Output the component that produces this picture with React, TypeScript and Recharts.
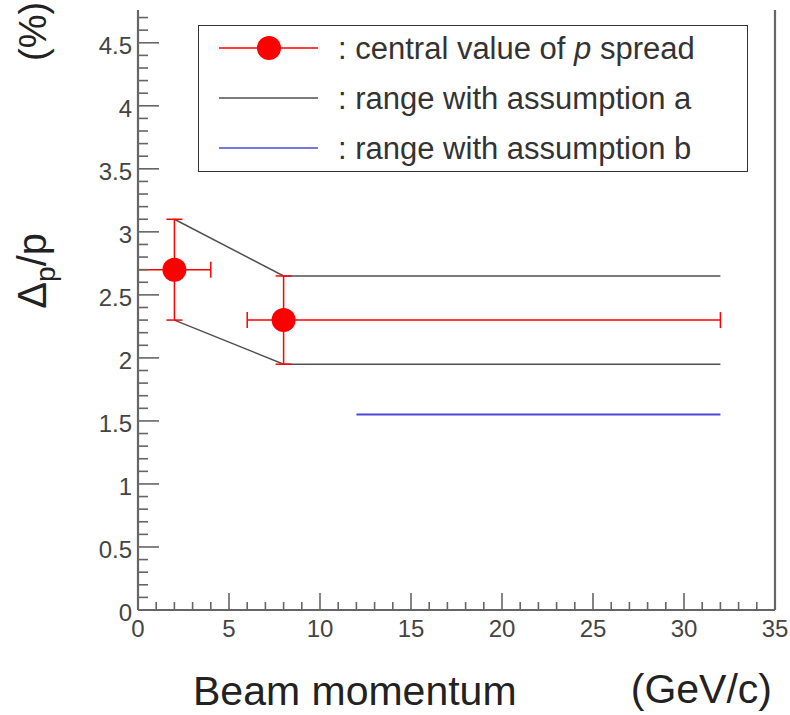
import React from 'react';
import {
  ComposedChart,
  Line,
  Scatter,
  ErrorBar,
  XAxis,
  YAxis,
  ReferenceLine,
  Legend,
} from 'recharts';

// ---- data ----
const centralPoints = [
  { x: 2, y: 2.7, ex: [2, 2], ey: [0.4, 0.4] },
  { x: 8, y: 2.3, ex: [2, 24], ey: [0.35, 0.35] },
];
const rangeAUpper = [
  { x: 2, y: 3.1 },
  { x: 8, y: 2.65 },
  { x: 32, y: 2.65 },
];
const rangeALower = [
  { x: 2, y: 2.3 },
  { x: 8, y: 1.95 },
  { x: 32, y: 1.95 },
];
const rangeB = [
  { x: 12, y: 1.55 },
  { x: 32, y: 1.55 },
];
const xTicks = [
  0, 1, 2, 3, 4, 5, 6, 7, 8, 9, 10, 11, 12, 13, 14, 15, 16, 17, 18, 19, 20,
  21, 22, 23, 24, 25, 26, 27, 28, 29, 30, 31, 32, 33, 34, 35,
];
const yTicks = [
  0, 0.1, 0.2, 0.3, 0.4, 0.5, 0.6, 0.7, 0.8, 0.9, 1, 1.1, 1.2, 1.3, 1.4, 1.5,
  1.6, 1.7, 1.8, 1.9, 2, 2.1, 2.2, 2.3, 2.4, 2.5, 2.6, 2.7, 2.8, 2.9, 3, 3.1,
  3.2, 3.3, 3.4, 3.5, 3.6, 3.7, 3.8, 3.9, 4, 4.1, 4.2, 4.3, 4.4, 4.5, 4.6, 4.7,
];
const legendLabels = [
  'central value of ',
  'p',
  ' spread',
  ': range with assumption a',
  ': range with assumption b',
];
const xTitle = 'Beam momentum';
const xUnit = '(GeV/c)';

const FONT = '"Liberation Sans", Arial, Helvetica, sans-serif';
const AXIS = '#666666';
const RED = '#ff0000';
const BAND = '#505050';
const BLUE = '#4a4ad8';

const XTick = (props: any) => {
  const { x, y, payload } = props;
  const v = payload.value;
  const major = v % 5 === 0;
  return (
    <g>
      <line x1={x} x2={x} y1={y} y2={y - (major ? 17 : 8)} stroke={AXIS} strokeWidth={1.6} />
      {major && (
        <text x={x} y={y + 27} textAnchor="middle" fontSize={24} fontFamily={FONT} fill="#444">
          {v}
        </text>
      )}
    </g>
  );
};

const YTick = (props: any) => {
  const { x, y, payload } = props;
  const v = payload.value;
  const major = Math.abs(v * 2 - Math.round(v * 2)) < 1e-6;
  return (
    <g>
      <line x1={x} x2={x + (major ? 21 : 10)} y1={y} y2={y} stroke={AXIS} strokeWidth={1.6} />
      {major && (
        <text x={x - 6} y={y + 11} textAnchor="end" fontSize={24} fontFamily={FONT} fill="#444">
          {v}
        </text>
      )}
    </g>
  );
};

const YTitle = () => (
  <g fontFamily={FONT} fill="#222">
    <text x={46} y={233} transform="rotate(-90 46 233)" textAnchor="end" fontSize={40}>
      <tspan>Δ</tspan>
      <tspan fontSize={28} dy={9}>p</tspan>
      <tspan dy={-9}>/p</tspan>
    </text>
    <text x={46} y={61} transform="rotate(-90 46 61)" textAnchor="start" fontSize={38}>
      (%)
    </text>
  </g>
);

const XTitle = () => (
  <g fontFamily={FONT} fill="#222" fontSize={41}>
    <text x={193} y={705}>{xTitle}</text>
    <text x={772} y={703} textAnchor="end">{xUnit}</text>
  </g>
);

const LegendBox = () => (
  <div
    style={{
      width: 550,
      height: 147,
      border: '1.5px solid #333',
      boxSizing: 'border-box',
      background: '#fff',
    }}
  >
    <svg width={547} height={144} style={{ display: 'block' }}>
      <g fontFamily={FONT} fontSize={31} fill="#333">
        <line x1={20} x2={119} y1={22} y2={22} stroke={RED} strokeWidth={1.5} />
        <circle cx={70} cy={22} r={12} fill={RED} />
        <text x={139} y={33}>
          {': ' + legendLabels[0]}
          <tspan fontStyle="italic">{legendLabels[1]}</tspan>
          {legendLabels[2]}
        </text>
        <line x1={20} x2={119} y1={72} y2={72} stroke={BAND} strokeWidth={1.5} />
        <text x={139} y={83}>{legendLabels[3]}</text>
        <line x1={20} x2={119} y1={122} y2={122} stroke={BLUE} strokeWidth={1.5} />
        <text x={139} y={133}>{legendLabels[4]}</text>
      </g>
    </svg>
  </div>
);

export default function App() {
  return (
    <div style={{ position: 'absolute', left: 0, top: 0, background: '#fff' }}>
      <ComposedChart
        width={790}
        height={715}
        margin={{ top: 10, right: 15, bottom: 0, left: 0 }}
      >
        <XAxis
          type="number"
          dataKey="x"
          domain={[0, 35]}
          ticks={xTicks}
          interval={0}
          height={105}
          tickSize={0}
          tickMargin={0}
          tickLine={false}
          tick={<XTick />}
          axisLine={{ stroke: AXIS, strokeWidth: 2.2 }}
          allowDataOverflow
          label={{ content: () => <XTitle /> }}
        />
        <YAxis
          type="number"
          domain={[0, 4.76]}
          ticks={yTicks}
          interval={0}
          width={138}
          tickSize={0}
          tickMargin={0}
          tickLine={false}
          tick={<YTick />}
          axisLine={{ stroke: AXIS, strokeWidth: 2.2 }}
          allowDataOverflow
          label={{ content: () => <YTitle /> }}
        />
        <ReferenceLine x={35} stroke={AXIS} strokeWidth={2.2} />
        <Line
          data={rangeAUpper}
          dataKey="y"
          type="linear"
          stroke={BAND}
          strokeWidth={1.5}
          dot={false}
          isAnimationActive={false}
        />
        <Line
          data={rangeALower}
          dataKey="y"
          type="linear"
          stroke={BAND}
          strokeWidth={1.5}
          dot={false}
          isAnimationActive={false}
        />
        <Line
          data={rangeB}
          dataKey="y"
          type="linear"
          stroke={BLUE}
          strokeWidth={2}
          dot={false}
          isAnimationActive={false}
        />
        <Scatter
          data={centralPoints}
          dataKey="y"
          fill={RED}
          isAnimationActive={false}
          shape={(p: any) => <circle cx={p.cx} cy={p.cy} r={12} fill={RED} />}
        >
          <ErrorBar dataKey="ex" direction="x" width={8} stroke={RED} strokeWidth={1.5} isAnimationActive={false} />
          <ErrorBar dataKey="ey" direction="y" width={8} stroke={RED} strokeWidth={1.5} isAnimationActive={false} />
        </Scatter>
        <Legend
          layout="vertical"
          align="center"
          verticalAlign="middle"
          content={() => <LegendBox />}
          wrapperStyle={{ position: 'absolute', left: 198, top: 25, width: 550, height: 147 }}
        />
      </ComposedChart>
    </div>
  );
}
